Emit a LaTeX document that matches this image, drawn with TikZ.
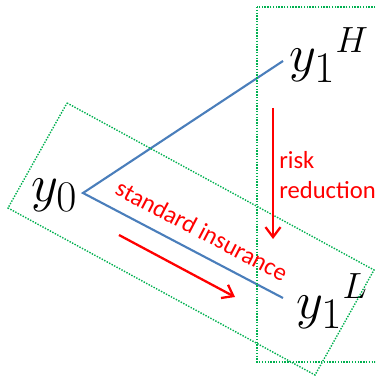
\documentclass[tikz,border=0pt]{standalone}
\usepackage{fontspec}
\newfontfamily\calib{Carlito}
\usepackage{tikz}
\usetikzlibrary{arrows.meta}
\definecolor{edgeBlue}{RGB}{74,126,187}
\definecolor{boxGreen}{RGB}{0,176,80}
\definecolor{noteRed}{RGB}{255,0,0}

\begin{document}
\begin{tikzpicture}[x=0.2mm,y=-0.2mm,
  state/.style={inner sep=0pt,font=\Huge,scale=1.2,transform shape},
  note/.style={inner sep=0pt,text=noteRed,font=\calib\fontsize{14}{17}\selectfont},
  edge/.style={edgeBlue,line width=1.2pt},
  move/.style={noteRed,line width=1.3pt,-{Straight Barb[length=2mm,width=3mm,line width=1.3pt]}},
  grp/.style={boxGreen,line width=0.8pt,dash pattern=on 0.8pt off 0.8pt}]
\useasboundingbox (0,0) rectangle (375,376);
\clip (0,0) rectangle (375,376);

% states
\node[state,anchor=base west] (y0) at (31,201) {$y_0$};
\node[state,anchor=base west] (yH) at (289,72) {${y_1}^{\scriptscriptstyle H}$};
\node[state,anchor=base west] (yL) at (296,318) {${y_1}^{\scriptscriptstyle L}$};

\coordinate (v0) at (83,193);
\coordinate (vH) at (283,61);
\coordinate (vL) at (283,298);
\draw[edge] (vH) -- (v0) -- (vL);

% groupings
\draw[grp] (257,7) rectangle (390,362);
\draw[grp] (67,103) -- (374,270) -- (315,375) -- (8,208) -- cycle;

% moves
\coordinate (rTop) at (273,108);
\coordinate (rBot) at (273,239);
\draw[move] (rTop) -- (rBot);
\node[note,anchor=west,align=left] (risk) at (279,175) {risk\\reduction};

\coordinate (sFrom) at (119,235);
\coordinate (sTo) at (235,297);
\draw[move] (sFrom) -- (sTo);
\node[note,anchor=base,rotate=-27.6] (std) at (198,238) {standard insurance};
\end{tikzpicture}
\end{document}
